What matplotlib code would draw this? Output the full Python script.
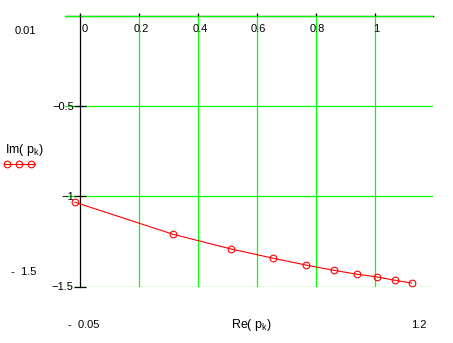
import matplotlib
matplotlib.use("Agg")
import matplotlib.pyplot as plt
import matplotlib.transforms as mtransforms
from matplotlib.lines import Line2D

plt.rcParams['font.family'] = ['Liberation Sans', 'DejaVu Sans']
plt.rcParams['font.size'] = 8

# poles p_k: real and imaginary parts
re_p = [-0.017, 0.316, 0.514, 0.656, 0.768, 0.862, 0.941, 1.010, 1.071, 1.126]
im_p = [-1.032, -1.210, -1.292, -1.343, -1.381, -1.410, -1.432, -1.447, -1.466, -1.481]

x_ticks = [0, 0.2, 0.4, 0.6, 0.8, 1]
x_ticklabels = ["0", "0.2", "0.4", "0.6", "0.8", "1"]
y_ticks = [-0.5, -1, -1.5]
y_ticklabels = ["\u22120.5", "\u22121", "\u22121.5"]
x_range = (-0.05, 1.2)
y_range = (-1.5, 0.01)

W, H = 453, 343
fig = plt.figure(figsize=(W / 100, H / 100), dpi=100)

# plot box in pixels
left, right, top, bottom = 65.3, 433.4, 14.7, 286.5
ax = fig.add_axes([left / W, 1 - bottom / H, (right - left) / W, (bottom - top) / H])
ax.set_xlim(*x_range)
ax.set_ylim(*y_range)

grid_color = "#00ff00"
for xv in x_ticks[1:]:
    ax.axvline(xv, color=grid_color, lw=0.9, zorder=1)
for yv in [0] + y_ticks:
    ax.axhline(yv, color=grid_color, lw=0.9, zorder=1)

ax.plot(re_p, im_p, color="red", lw=0.8, marker="o", ms=4.8,
        mfc="none", mec="red", mew=0.8, zorder=3)

# axes crossing at the origin
for s in ["top", "right"]:
    ax.spines[s].set_visible(False)
ax.spines["left"].set_position(("data", 0))
ax.spines["bottom"].set_position(("data", 0))
ax.spines["left"].set_linewidth(0.9)
ax.spines["bottom"].set_linewidth(0.9)
ax.spines["left"].set_zorder(2)
ax.spines["bottom"].set_zorder(0.5)

ax.set_xticks(x_ticks)
ax.set_xticklabels(x_ticklabels)
ax.set_yticks(y_ticks)
ax.set_yticklabels(y_ticklabels)
ax.tick_params(axis="x", direction="in", length=2.5, width=0.9, pad=5.5)
ax.tick_params(axis="y", direction="inout", length=8, width=0.9, pad=0.5)
shift = mtransforms.ScaledTranslation(2 / 100, 0, fig.dpi_scale_trans)
for i, lbl in enumerate(ax.get_xticklabels()):
    if i == 0:
        lbl.set_horizontalalignment("left")
    else:
        lbl.set_horizontalalignment("center")
    lbl.set_transform(lbl.get_transform() + shift)

def px(x, y):
    return x / W, 1 - y / H

fig.text(*px(15, 31), "0.01", va="center", ha="left")
fig.text(*px(11, 272), "-  1.5", va="center", ha="left")
fig.text(*px(68, 325), "-  0.05", va="center", ha="left")
fig.text(*px(427, 325), "1.2", va="center", ha="right")
fig.text(*px(251, 325), r"Re( p$_\mathregular{k}$)", va="center", ha="center", fontsize=9)
fig.text(*px(5, 150), r"Im( p$_\mathregular{k}$)", va="center", ha="left", fontsize=9)

# legend key
lx = [7 / W, 19 / W, 31 / W]
ly = [1 - 164 / H] * 3
fig.add_artist(Line2D([4 / W, 35 / W], [ly[0], ly[0]], transform=fig.transFigure,
                      color="red", lw=0.8))
fig.add_artist(Line2D(lx, ly, transform=fig.transFigure, color="red", lw=0,
                      marker="o", ms=4.8, mfc="none", mec="red", mew=0.8))

fig.savefig("out.png", dpi=100)
